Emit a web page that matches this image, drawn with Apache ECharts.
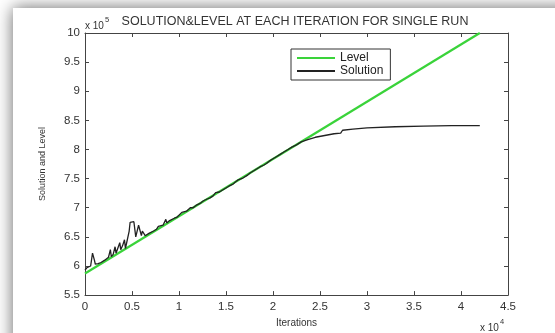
<!DOCTYPE html>
<html><head><meta charset="utf-8">
<script src="https://cdn.jsdelivr.net/npm/echarts@6/dist/echarts.min.js"></script>
<style>html,body{margin:0;padding:0;background:#fff}#c{width:555px;height:333px}</style>
</head><body><div id="c"></div>
<script>
var xTicks = [0,0.5,1,1.5,2,2.5,3,3.5,4,4.5];
var yTicks = [5.5,6,6.5,7,7.5,8,8.5,9,9.5,10];
var levelData = [[0,5.87],[4.2,10]];
var solutionData = [
[0.00,5.93],[0.02,5.97],[0.04,5.96],[0.06,6.00],[0.08,6.22],[0.09,6.25],[0.10,6.10],[0.11,6.03],
[0.14,6.04],[0.17,6.06],[0.19,6.05],[0.21,6.10],[0.23,6.09],[0.25,6.15],[0.27,6.28],[0.28,6.16],
[0.30,6.20],[0.32,6.33],[0.33,6.22],[0.35,6.25],[0.37,6.40],[0.38,6.28],[0.40,6.35],[0.42,6.45],
[0.43,6.30],[0.45,6.32],[0.47,6.60],[0.48,6.75],[0.50,6.77],[0.52,6.76],[0.53,6.74],[0.54,6.50],
[0.55,6.47],[0.57,6.70],[0.58,6.68],[0.60,6.52],[0.61,6.60],[0.62,6.63],[0.64,6.52],[0.66,6.55],
[0.68,6.56],[0.70,6.58],[0.73,6.60],[0.76,6.63],[0.78,6.68],[0.80,6.66],[0.83,6.70],[0.86,6.80],
[0.87,6.74],[0.90,6.78],[0.92,6.79],[0.95,6.82],[0.98,6.84],[1.00,6.86],[1.03,6.92],[1.05,6.90],
[1.08,6.94],[1.10,6.95],[1.12,7.00],[1.15,7.00],[1.18,7.04],[1.20,7.05],[1.23,7.08],[1.26,7.12],
[1.28,7.11],[1.30,7.15],[1.33,7.17],[1.36,7.20],[1.39,7.26],[1.40,7.24],[1.43,7.27],[1.46,7.30],
[1.50,7.34],[1.53,7.37],[1.55,7.40],[1.57,7.40],[1.60,7.44],[1.63,7.48],[1.65,7.47],[1.68,7.51],
[1.70,7.54],[1.73,7.56],[1.76,7.60],[1.78,7.61],[1.80,7.64],[1.83,7.67],[1.86,7.70],[1.90,7.73],
[1.93,7.76],[1.96,7.80],[2.00,7.84],[2.04,7.88],[2.08,7.92],[2.12,7.96],[2.16,8.00],[2.20,8.04],
[2.25,8.08],[2.30,8.13],[2.37,8.17],[2.45,8.21],[2.55,8.24],[2.65,8.27],[2.72,8.28],[2.73,8.30],
[2.74,8.33],[2.85,8.35],[3.00,8.37],[3.30,8.39],[3.60,8.40],[3.90,8.41],[4.20,8.41]
];
var titleText = 'SOLUTION&LEVEL AT EACH ITERATION FOR SINGLE RUN';
var xName = 'Iterations';
var yName = 'Solution and Level';

var chart = echarts.init(document.getElementById('c'), null, {renderer:'canvas'});
var axisCol = '#444';
var lbl = {color:'#333', fontSize:11.5, fontFamily:'Liberation Sans, Arial, sans-serif'};
function baseAxis(extra){
  return Object.assign({
    type:'value', splitLine:{show:false},
    axisLine:{show:true, onZero:false, lineStyle:{color:axisCol, width:1}},
    axisTick:{show:true, inside:true, length:4, lineStyle:{color:axisCol}}
  }, extra);
}
var expRich = {a:{fontSize:10,fill:'#333',fontFamily:'Liberation Sans, Arial',verticalAlign:'bottom'},b:{fontSize:7.5,fill:'#333',fontFamily:'Liberation Sans, Arial',verticalAlign:'top',padding:[0,0,7,1]}};
chart.setOption({
  backgroundColor:'#fff',
  animation:false,
  grid:{left:85, right:47, top:33, bottom:35},
  graphic:[
    {type:'rect', z:-10, shape:{x:13,y:8,width:620,height:400},
     style:{fill:'#fff', shadowBlur:16, shadowColor:'rgba(0,0,0,0.6)'}},
    {type:'text', left:85, top:16, style:{rich:expRich, text:'{a|x 10}{b|5}'}},
    {type:'text', left:480, top:318, style:{rich:expRich, text:'{a|x 10}{b|4}'}},
    {type:'text', x:295, y:22, style:{text:titleText, fontSize:12.5, fill:'#333', fontFamily:'Liberation Sans, Arial', align:'center', verticalAlign:'middle'}}
  ],
  legend:{
    show:true, orient:'vertical', left:291, top:49,
    padding:[3,7,3,6], itemGap:1, itemWidth:38, itemHeight:2,
    borderColor:'#333', borderWidth:1, backgroundColor:'#fff',
    textStyle:{fontSize:12, color:'#222', fontFamily:'Liberation Sans, Arial'},
    data:[{name:'Level', icon:'rect'},{name:'Solution', icon:'rect'}]
  },
  xAxis:[
    baseAxis({position:'bottom', min:0, max:4.5, interval:0.5,
      axisLabel:Object.assign({margin:6}, lbl),
      name:xName, nameLocation:'middle', nameGap:19,
      nameTextStyle:{fontSize:10, color:'#333', fontFamily:'Liberation Sans, Arial'}}),
    baseAxis({position:'top', min:0, max:4.5, interval:0.5, axisLabel:{show:false}})
  ],
  yAxis:[
    baseAxis({position:'left', min:5.5, max:10, interval:0.5,
      axisLabel:Object.assign({margin:5}, lbl),
      name:yName, nameLocation:'middle', nameGap:38,
      nameTextStyle:{fontSize:9, color:'#333', fontFamily:'Liberation Sans, Arial'}}),
    baseAxis({position:'right', min:5.5, max:10, interval:0.5, axisLabel:{show:false}})
  ],
  series:[
    {name:'Level', type:'line', data:levelData, symbol:'none', color:'#3ad33a',
     lineStyle:{width:2.2, color:'#3ad33a'}, z:2},
    {name:'Solution', type:'line', data:solutionData, symbol:'none', color:'#222',
     lineStyle:{width:1.3, color:'#222'}, z:3}
  ]
});
</script></body></html>
